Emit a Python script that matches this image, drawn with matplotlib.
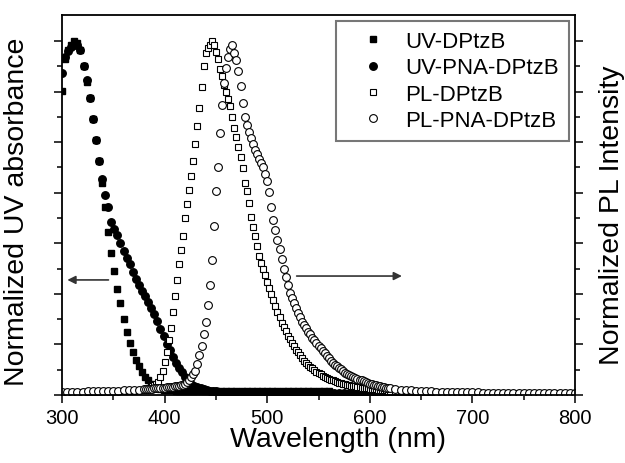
import numpy as np
import matplotlib.pyplot as plt
from matplotlib.ticker import MultipleLocator

plt.rcParams['font.family'] = ['Liberation Sans', 'DejaVu Sans']

# wavelength grids (nm)
wl_uv_dptzb = np.concatenate([np.arange(300, 451, 3), np.arange(455, 561, 5)])
wl_uv_pna = np.concatenate([np.arange(300, 451, 3), np.arange(455, 801, 5)])
wl_pl = np.concatenate([np.arange(300, 376, 5), np.arange(380, 621, 2), np.arange(625, 801, 5)])

# normalized UV absorbance
uv_dptzb = [
    0.86, 0.95, 0.975, 0.99, 1.0, 0.995, 0.975, 0.93, 0.885, 0.84,
    0.78, 0.72, 0.66, 0.60, 0.53, 0.46, 0.40, 0.35, 0.30, 0.26,
    0.215, 0.178, 0.148, 0.122, 0.10, 0.081, 0.066, 0.052, 0.041, 0.032,
    0.024, 0.019, 0.016, 0.014, 0.013, 0.013, 0.013, 0.012, 0.012, 0.012,
    0.012, 0.012, 0.012, 0.012, 0.011, 0.011, 0.011, 0.011, 0.011, 0.011,
    0.011,
    0.011, 0.011, 0.011, 0.011, 0.011, 0.011, 0.011, 0.011, 0.011, 0.011, 0.011,
    0.011, 0.011, 0.011, 0.011, 0.011, 0.011, 0.011, 0.011, 0.011, 0.011, 0.011,
]
uv_pna = [
    0.91, 0.955, 0.972, 0.983, 0.99, 0.99, 0.975, 0.93, 0.89, 0.84,
    0.78, 0.72, 0.66, 0.61, 0.565, 0.53, 0.49, 0.47, 0.452, 0.43,
    0.408, 0.388, 0.37, 0.348, 0.328, 0.312, 0.294, 0.279, 0.264, 0.246,
    0.228, 0.209, 0.187, 0.167, 0.145, 0.126, 0.108, 0.09, 0.077, 0.065,
    0.051, 0.04, 0.032, 0.026, 0.022, 0.019, 0.016, 0.014, 0.012, 0.011,
    0.01,
    0.009, 0.009, 0.009, 0.008, 0.008, 0.008, 0.008, 0.007, 0.007, 0.007,
    0.007, 0.007, 0.006, 0.006, 0.006, 0.006, 0.006, 0.006, 0.006, 0.006,
    0.005, 0.005, 0.005, 0.005, 0.005, 0.005, 0.005, 0.005, 0.005, 0.005,
    0.005, 0.005, 0.005, 0.005, 0.005, 0.005, 0.005, 0.005, 0.005, 0.005,
    0.004, 0.004, 0.004, 0.004, 0.004, 0.004, 0.004, 0.004, 0.004, 0.004,
    0.004, 0.004, 0.004, 0.004, 0.004, 0.004, 0.004, 0.004, 0.004, 0.004,
    0.004, 0.004, 0.004, 0.004, 0.004, 0.004, 0.004, 0.004, 0.004, 0.004,
]

# normalized PL intensity
pl_dptzb = [
    0.007, 0.007, 0.008, 0.008, 0.008, 0.009, 0.009, 0.009, 0.010, 0.010,
    0.010, 0.011, 0.011, 0.012, 0.012, 0.013,
    0.014, 0.016, 0.018, 0.021, 0.024, 0.027, 0.031, 0.037, 0.05, 0.068,
    0.092, 0.122, 0.155, 0.19, 0.235, 0.28, 0.325, 0.37, 0.41, 0.45,
    0.50, 0.54, 0.58, 0.62, 0.66, 0.71, 0.76, 0.81, 0.87, 0.93,
    0.965, 0.98, 0.99, 1.0, 0.99, 0.97, 0.95, 0.92, 0.90, 0.875,
    0.855, 0.835, 0.815, 0.785, 0.755, 0.728, 0.70, 0.672, 0.64, 0.60,
    0.575, 0.543, 0.503, 0.475, 0.448, 0.42, 0.393, 0.373, 0.357, 0.34,
    0.32, 0.302, 0.286, 0.268, 0.251, 0.235, 0.22, 0.204, 0.192, 0.18,
    0.168, 0.158, 0.147, 0.137, 0.128, 0.12, 0.113, 0.105, 0.097, 0.09,
    0.084, 0.079, 0.075, 0.07, 0.066, 0.062, 0.059, 0.055, 0.052, 0.049,
    0.046, 0.043, 0.041, 0.039, 0.037, 0.035, 0.034, 0.032, 0.031, 0.029,
    0.027, 0.026, 0.025, 0.024, 0.023, 0.022, 0.021, 0.02, 0.019, 0.019,
    0.018, 0.017, 0.016, 0.016, 0.015, 0.014, 0.014, 0.013, 0.013, 0.012,
    0.012,
    0.011, 0.011, 0.010, 0.010, 0.009, 0.009, 0.009, 0.008, 0.008, 0.008, 0.007, 0.007,
    0.007, 0.007, 0.006, 0.006, 0.006, 0.006, 0.006, 0.006, 0.005, 0.005, 0.005, 0.005,
    0.005, 0.005, 0.005, 0.005, 0.005, 0.005, 0.005, 0.005, 0.005, 0.005, 0.005, 0.005,
]
pl_pna = [
    0.008, 0.008, 0.009, 0.009, 0.009, 0.010, 0.010, 0.010, 0.011, 0.011,
    0.012, 0.012, 0.013, 0.013, 0.014, 0.015,
    0.016, 0.017, 0.017, 0.018, 0.018, 0.019, 0.019, 0.02, 0.02, 0.021,
    0.021, 0.022, 0.022, 0.023, 0.023, 0.024, 0.025, 0.026, 0.027, 0.029,
    0.032, 0.036, 0.041, 0.05, 0.059, 0.069, 0.088, 0.112, 0.139, 0.171,
    0.207, 0.255, 0.312, 0.38, 0.478, 0.575, 0.645, 0.74, 0.82, 0.88,
    0.925, 0.955, 0.978, 0.99, 0.966, 0.945, 0.915, 0.873, 0.826, 0.786,
    0.762, 0.742, 0.725, 0.708, 0.693, 0.682, 0.667, 0.655, 0.645, 0.624,
    0.605, 0.572, 0.53, 0.495, 0.467, 0.438, 0.413, 0.383, 0.357, 0.333,
    0.312, 0.289, 0.273, 0.259, 0.246, 0.232, 0.219, 0.207, 0.197, 0.188,
    0.179, 0.171, 0.162, 0.154, 0.146, 0.138, 0.133, 0.125, 0.118, 0.11,
    0.104, 0.097, 0.09, 0.086, 0.081, 0.076, 0.072, 0.067, 0.063, 0.06,
    0.057, 0.054, 0.052, 0.049, 0.046, 0.043, 0.041, 0.039, 0.036, 0.034,
    0.032, 0.031, 0.029, 0.027, 0.026, 0.025, 0.023, 0.022, 0.021, 0.02,
    0.019,
    0.017, 0.015, 0.014, 0.013, 0.012, 0.011, 0.010, 0.010, 0.009, 0.009, 0.008, 0.008,
    0.008, 0.007, 0.007, 0.007, 0.007, 0.006, 0.006, 0.006, 0.006, 0.006, 0.006, 0.005,
    0.005, 0.005, 0.005, 0.005, 0.005, 0.005, 0.005, 0.005, 0.005, 0.005, 0.005, 0.005,
]

labels = ['UV-DPtzB', 'UV-PNA-DPtzB', 'PL-DPtzB', 'PL-PNA-DPtzB']

fig = plt.figure(figsize=(6.25, 4.64), dpi=100)
ax = fig.add_axes([0.0992, 0.1466, 0.8208, 0.8189])

ax.plot(wl_uv_dptzb, uv_dptzb, 's', color='black', ms=4.8, label=labels[0])
ax.plot(wl_uv_pna, uv_pna, 'o', color='black', ms=5.4, label=labels[1])
ax.plot(wl_pl, pl_dptzb, 's', mfc='white', mec='black', mew=0.8, ms=4.8, label=labels[2])
ax.plot(wl_pl, pl_pna, 'o', mfc='white', mec='black', mew=0.8, ms=5.6, label=labels[3])

ax.set_xlim(300, 800)
ax.set_ylim(0, 1.0734)
ax.xaxis.set_major_locator(MultipleLocator(100))
ax.xaxis.set_minor_locator(MultipleLocator(50))
ax.set_yticks(np.arange(8) / 7)
ax.set_yticks(np.arange(15) / 14, minor=True)
ax.tick_params(which='both', width=1.1, labelsize=14.5,
               right=True, top=False, labelleft=False, labelright=False)
ax.tick_params(which='both', direction='out')
ax.tick_params(which='major', length=6)
ax.tick_params(which='minor', length=3.5)
for s in ax.spines.values():
    s.set_linewidth(1.3)

# arrows pointing to the axes
ax.annotate('', xy=(302.5, 0.325), xytext=(348, 0.325),
            arrowprops=dict(arrowstyle='-|>', color='#333333', lw=1.2, mutation_scale=12))
ax.annotate('', xy=(634, 0.336), xytext=(526, 0.336),
            arrowprops=dict(arrowstyle='-|>', color='#333333', lw=1.2, mutation_scale=12))

leg = ax.legend(loc='upper right', bbox_to_anchor=(0.988, 0.984), borderaxespad=0,
                fontsize=16, frameon=True, fancybox=False, handlelength=2.4,
                handletextpad=0.25, labelspacing=0.24, borderpad=0.45)
leg.get_frame().set_edgecolor('#555555')
leg.get_frame().set_linewidth(1.5)

fig.text(0.54, 0.052, 'Wavelength (nm)', ha='center', va='center', fontsize=20.5)
fig.text(0.027, 0.543, 'Normalized UV absorbance', ha='center', va='center',
         rotation=90, fontsize=20.5)
fig.text(0.979, 0.537, 'Normalized PL Intensity', ha='center', va='center',
         rotation=90, fontsize=20.5)

fig.savefig('out.png', dpi=100)
